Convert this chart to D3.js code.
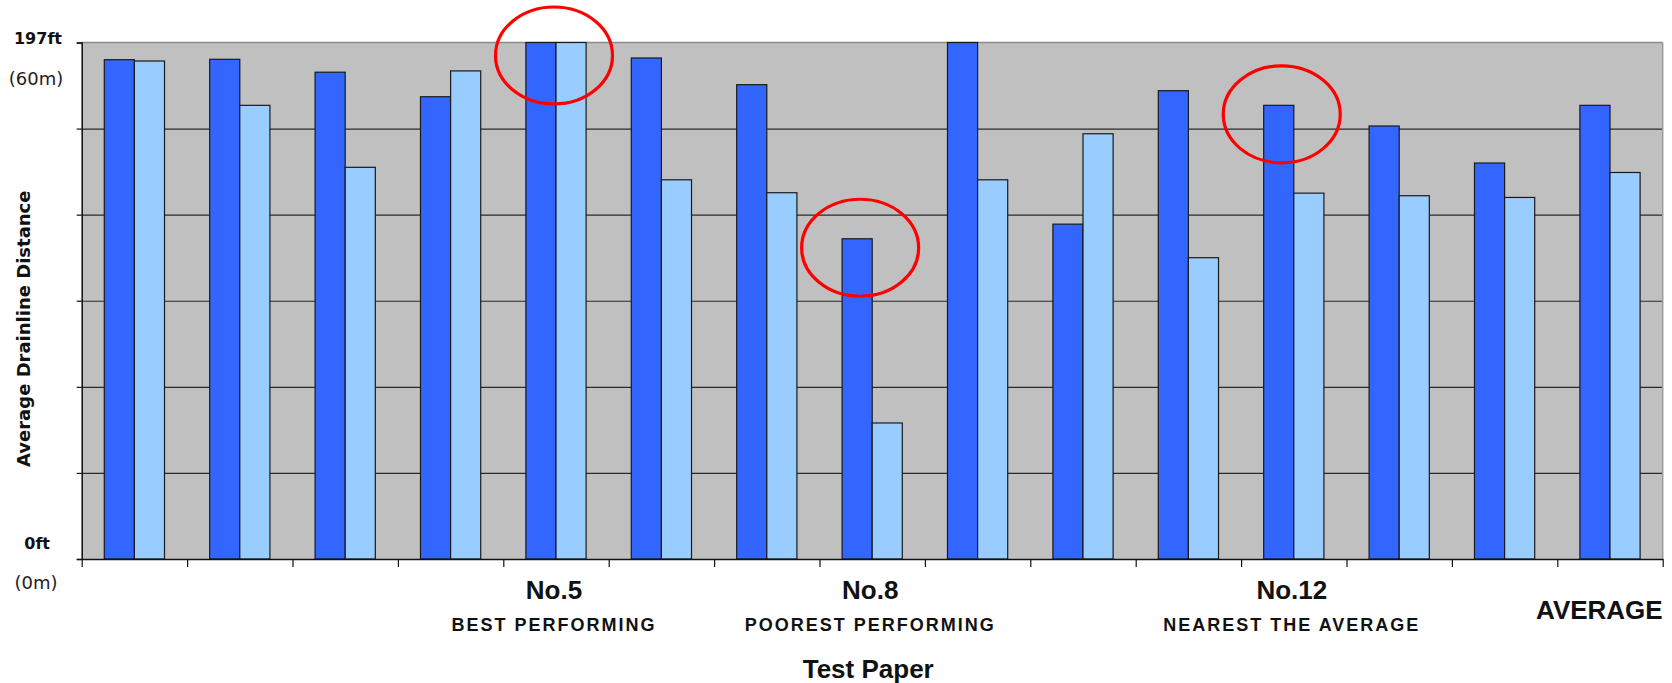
<!DOCTYPE html>
<html>
<head>
<meta charset="utf-8">
<script src="https://cdn.jsdelivr.net/npm/d3@7"></script>
<style>
  html, body { margin: 0; padding: 0; background: #ffffff; }
  svg { display: block; }
</style>
</head>
<body>
<svg id="chart" width="1672" height="683"></svg>
<script>
// Test papers 1–14 plus the overall average
const categories = ["1","2","3","4","5","6","7","8","9","10","11","12","13","14","AVERAGE"];

// Average drainline distance in metres (0–60 m = 0–197 ft)
const seriesA = [58.0, 58.05, 56.55, 53.7, 60, 58.2, 55.1, 37.2, 60, 38.9, 54.4, 52.7, 50.3, 46.0, 52.7];
const seriesB = [57.85, 52.7, 45.5, 56.7, 60, 44.05, 42.55, 15.8, 44.05, 49.4, 35.0, 42.5, 42.2, 42.0, 44.9];

// Category captions under the axis
const mainLabels = ["", "", "", "", "No.5", "", "", "No.8", "", "", "", "No.12", "", "", "AVERAGE"];
const subLabels  = ["", "", "", "", "BEST PERFORMING", "", "", "POOREST PERFORMING", "", "", "", "NEAREST THE AVERAGE", "", "", ""];

// Papers circled in red
const highlighted = ["5", "8", "12"];

const yTicks = [0, 10, 20, 30, 40, 50, 60];
const yTopLabels = ["197ft", "(60m)"];
const yBottomLabels = ["0ft", "(0m)"];
const yTitle = "Average Drainline Distance";
const xTitle = "Test Paper";

const svg = d3.select("#chart");
const plot = { left: 81.7, right: 1662.7, top: 42.5, bottom: 559 };
const W = plot.right - plot.left;
const H = plot.bottom - plot.top;

const x = d3.scaleBand().domain(categories).range([plot.left, plot.right]).padding(0);
const xSub = d3.scaleBand().domain(["a", "b"]).range([0, x.bandwidth()]).paddingInner(0).paddingOuter(0.75);
const y = d3.scaleLinear().domain([0, 60]).range([plot.bottom, plot.top]);
const xEdges = d3.scaleLinear().domain([0, categories.length]).range([plot.left, plot.right]);

// Plot background
svg.append("rect")
  .attr("x", plot.left).attr("y", plot.top)
  .attr("width", W).attr("height", H)
  .attr("fill", "#c0c0c0");

// Horizontal gridlines
svg.append("g")
  .attr("transform", `translate(${plot.left},0)`)
  .call(d3.axisLeft(y).tickValues(yTicks.slice(1, -1)).tickSize(-W).tickFormat(""))
  .call(g => g.select(".domain").remove())
  .call(g => g.selectAll("line").attr("stroke", "#2a2a2a").attr("stroke-width", 1.2));

// Top and right frame of the plot area
svg.append("line")
  .attr("x1", plot.left).attr("x2", plot.right)
  .attr("y1", plot.top).attr("y2", plot.top)
  .attr("stroke", "#8a8a8a").attr("stroke-width", 1.5);
svg.append("line")
  .attr("x1", plot.right).attr("x2", plot.right)
  .attr("y1", plot.top).attr("y2", plot.bottom)
  .attr("stroke", "#9a9a9a").attr("stroke-width", 1.5);

// Bars
const rows = categories.map((c, i) => ({ c, a: seriesA[i], b: seriesB[i] }));
const groups = svg.append("g").selectAll("g")
  .data(rows).join("g")
  .attr("transform", d => `translate(${x(d.c)},0)`);

groups.append("rect")
  .attr("x", xSub("a")).attr("width", xSub.bandwidth())
  .attr("y", d => y(d.a)).attr("height", d => y(0) - y(d.a))
  .attr("fill", "#3366ff").attr("stroke", "#1a1a1a").attr("stroke-width", 1.2);

groups.append("rect")
  .attr("x", xSub("b")).attr("width", xSub.bandwidth())
  .attr("y", d => y(d.b)).attr("height", d => y(0) - y(d.b))
  .attr("fill", "#99ccff").attr("stroke", "#1a1a1a").attr("stroke-width", 1.2);

// Left axis
svg.append("g")
  .attr("transform", `translate(${plot.left},0)`)
  .call(d3.axisLeft(y).tickValues(yTicks).tickSize(5).tickFormat(""))
  .call(g => g.select(".domain").attr("stroke", "#111").attr("stroke-width", 1.5))
  .call(g => g.selectAll(".tick line").attr("stroke", "#111").attr("stroke-width", 1.2));

// Bottom axis with ticks between categories
svg.append("g")
  .attr("transform", `translate(0,${plot.bottom})`)
  .call(d3.axisBottom(xEdges).tickValues(d3.range(categories.length + 1)).tickSize(8).tickSizeOuter(0).tickFormat(""))
  .call(g => g.select(".domain").attr("stroke", "#111").attr("stroke-width", 1.5))
  .call(g => g.selectAll(".tick line").attr("stroke", "#111").attr("stroke-width", 1.2));

// Y-axis end labels
const vera = "'DejaVu Sans', Verdana, sans-serif";
svg.append("text").text(yTopLabels[0])
  .attr("x", 62).attr("y", y(60) + 1.5)
  .attr("text-anchor", "end").attr("font-family", vera).attr("font-weight", "bold").attr("font-size", 16).attr("fill", "#111");
svg.append("text").text(yTopLabels[1])
  .attr("x", 36).attr("y", y(60) + 42)
  .attr("text-anchor", "middle").attr("font-family", vera).attr("font-size", 18).attr("fill", "#222");
svg.append("text").text(yBottomLabels[0])
  .attr("x", 50).attr("y", y(0) - 10)
  .attr("text-anchor", "end").attr("font-family", vera).attr("font-weight", "bold").attr("font-size", 16).attr("fill", "#111");
svg.append("text").text(yBottomLabels[1])
  .attr("x", 36).attr("y", y(0) + 30)
  .attr("text-anchor", "middle").attr("font-family", vera).attr("font-size", 18).attr("fill", "#222");

// Y-axis title
svg.append("text").text(yTitle)
  .attr("transform", `translate(30,${(plot.top + plot.bottom) / 2 + 28}) rotate(-90)`)
  .attr("text-anchor", "middle").attr("font-family", vera).attr("font-weight", "bold").attr("font-size", 18).attr("fill", "#111");

// Category captions
const arial = "'Liberation Sans', Arial, sans-serif";
categories.forEach((c, i) => {
  const cx = x(c) + x.bandwidth() / 2;
  if (c === "AVERAGE") {
    svg.append("text").text(mainLabels[i])
      .attr("x", plot.right).attr("y", 619)
      .attr("text-anchor", "end").attr("font-family", arial).attr("font-weight", "bold").attr("font-size", 26).attr("fill", "#111");
    return;
  }
  if (mainLabels[i]) {
    svg.append("text").text(mainLabels[i])
      .attr("x", cx - 2).attr("y", 599)
      .attr("text-anchor", "middle").attr("font-family", arial).attr("font-weight", "bold").attr("font-size", 26).attr("fill", "#111");
  }
  if (subLabels[i]) {
    svg.append("text").text(subLabels[i])
      .attr("x", cx - 2).attr("y", 631)
      .attr("text-anchor", "middle").attr("font-family", arial).attr("font-weight", "bold").attr("font-size", 18)
      .attr("letter-spacing", 2).attr("fill", "#111");
  }
});

// X-axis title
svg.append("text").text(xTitle)
  .attr("x", (plot.left + plot.right) / 2 - 4).attr("y", 678)
  .attr("text-anchor", "middle").attr("font-family", arial).attr("font-weight", "bold").attr("font-size", 26).attr("fill", "#111");

// Red rings around the highlighted papers
const defs = svg.append("defs");
defs.append("filter").attr("id", "soft")
  .append("feGaussianBlur").attr("stdDeviation", 0.6);

highlighted.forEach(c => {
  const i = categories.indexOf(c);
  const both = seriesA[i] === seriesB[i];
  const cx = both ? x(c) + x.bandwidth() / 2 - 2 : x(c) + xSub("a") + xSub.bandwidth() / 2 + 3;
  const cy = y(seriesA[i]) + (both ? 13 : 9);
  svg.append("ellipse")
    .attr("cx", cx).attr("cy", cy)
    .attr("rx", 58.5).attr("ry", 48.5)
    .attr("fill", "none").attr("stroke", "#ff0000").attr("stroke-width", 3.2)
    .attr("filter", "url(#soft)");
});
</script>
</body>
</html>
